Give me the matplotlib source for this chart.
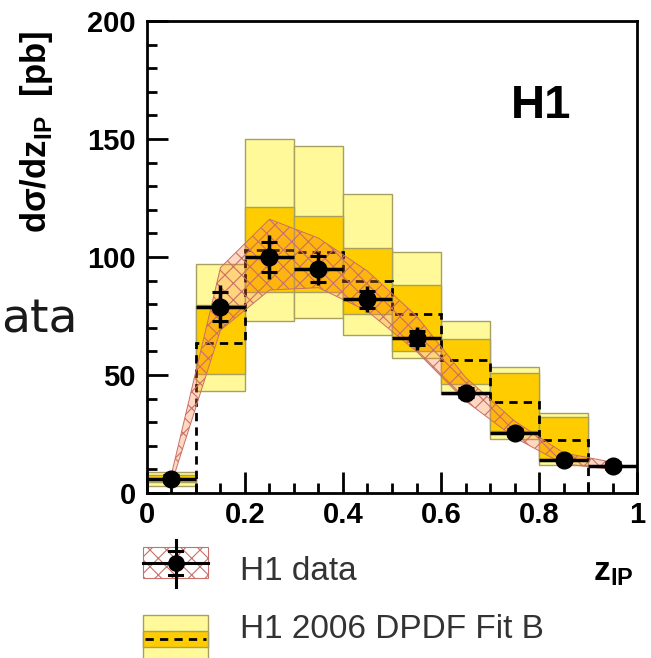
import numpy as np
import matplotlib
matplotlib.use("Agg")
import matplotlib.pyplot as plt
from matplotlib.patches import Rectangle
from matplotlib.ticker import MultipleLocator

plt.rcParams['font.family'] = ['Liberation Sans', 'DejaVu Sans']
plt.rcParams['mathtext.fontset'] = 'custom'
plt.rcParams['mathtext.rm'] = 'Liberation Sans'
plt.rcParams['mathtext.bf'] = 'Liberation Sans:bold'
plt.rcParams['hatch.linewidth'] = 0.8

# H1 data, bin centres in z_IP
z_centres = [0.05, 0.15, 0.25, 0.35, 0.45, 0.55, 0.65, 0.75, 0.85, 0.95]
data = [6, 79, 100, 95, 82, 65.5, 42.5, 25.5, 14, 11.5]
stat_err = [1.5, 6, 6.5, 5.5, 3.5, 3, 2, 1.5, 1, 1.5]
tot_err = [2.5, 9, 9.5, 7, 5.5, 5, 3, 2, 2, 2.5]
# correlated uncertainty band (hatched)
band_lo = [4, 69, 86, 87, 77, 60, 39, 23.5, 12.3, 10]
band_hi = [8, 95.5, 116, 108, 94, 75, 49, 30.5, 17, 13]

# H1 2006 DPDF Fit B prediction per bin (0.0 .. 0.9)
fit_left = [0.0, 0.1, 0.2, 0.3, 0.4, 0.5, 0.6, 0.7, 0.8]
fit_central = [63.5, 103, 102, 90, 76, 56.5, 38.5, 22.5]   # bins 0.1..0.9
fit_central_edges = [0.1, 0.2, 0.3, 0.4, 0.5, 0.6, 0.7, 0.8, 0.9]
dark_lo = [4.5, 50.5, 85, 85, 76, 60, 46, 26.3, 14]
dark_hi = [7.5, 79.5, 121, 117.5, 104, 88, 65.3, 51, 32]
light_lo = [3, 43, 73, 74, 67, 57, 42, 23, 12]
light_hi = [9, 97, 150, 147, 126.5, 102, 73, 53.5, 34]

light_col = '#fff99a'
dark_col = '#ffcc00'
box_edge = '#a8a060'
hatch_edge = '#c8706a'
hatch_face = (1.0, 0.5, 0.2, 0.3)

fig = plt.figure(figsize=(6.51, 6.58), dpi=100)

# legend drawn in pixel coordinates underneath
lax = fig.add_axes([0, 0, 1, 1], zorder=0)
lax.set_xlim(0, 651)
lax.set_ylim(658, 0)
lax.axis('off')

ax = fig.add_axes([0.2258, 0.2508, 0.7527, 0.7173], zorder=1)

w = 0.1
ax.bar(fit_left, np.subtract(light_hi, light_lo), bottom=light_lo, width=w,
       align='edge', color=light_col, edgecolor=box_edge, linewidth=1.0, zorder=1)
ax.bar(fit_left, np.subtract(dark_hi, dark_lo), bottom=dark_lo, width=w,
       align='edge', color=dark_col, edgecolor=box_edge, linewidth=1.0, zorder=2)
ax.stairs(fit_central, fit_central_edges, baseline=0, color='black',
          linestyle=(0, (3, 2.2)), linewidth=2.0, zorder=3)

ax.fill_between(z_centres, band_lo, band_hi, facecolor=hatch_face,
                edgecolor=hatch_edge, hatch='xx', linewidth=0.7, zorder=4)

# data points: total error bars with stat ticks
ax.errorbar(z_centres, data, xerr=0.05, yerr=tot_err, fmt='o', color='black',
            markersize=12, elinewidth=2.5, capsize=0, zorder=6)
ax.errorbar(z_centres, data, yerr=stat_err, fmt='none', ecolor='black',
            elinewidth=0, capsize=6, capthick=2.2, zorder=6)

ax.set_xlim(0, 1)
ax.set_ylim(0, 200)
ax.set_xticks([0, 0.2, 0.4, 0.6, 0.8, 1.0])
ax.set_xticklabels(['0', '0.2', '0.4', '0.6', '0.8', '1'])
ax.xaxis.set_minor_locator(MultipleLocator(0.05))
ax.yaxis.set_major_locator(MultipleLocator(50))
ax.yaxis.set_minor_locator(MultipleLocator(10))
ax.tick_params(which='major', direction='in', length=15, width=2,
               labelsize=21, pad=6)
ax.tick_params(which='minor', direction='in', length=7, width=2)
ax.tick_params(axis='y', pad=8)
for lab in ax.get_xticklabels() + ax.get_yticklabels():
    lab.set_fontweight('bold')
for sp in ax.spines.values():
    sp.set_linewidth(2)

ax.text(0.805, 164, 'H1', fontsize=34, fontweight='bold', ha='center', va='center',
        zorder=7)

# axis titles
fig.text(37 / 651, 1 - 132 / 658, 'dσ/dz$_{\\mathbf{IP}}$  [pb]',
         rotation=90, ha='center', va='center', fontsize=25, fontweight='bold')
fig.text(633 / 651, 1 - 573 / 658, r'z$_{\mathbf{IP}}$', ha='right',
         va='center', fontsize=24, fontweight='bold')

# stray text fragment at the left edge
fig.text(1 / 651, 1 - 333 / 658, 'ata', ha='left', va='baseline',
         fontsize=34, family='DejaVu Sans', color='#1a1a1a')

# legend entry 1: H1 data
lax.add_patch(Rectangle((143, 547), 65, 31, facecolor='white', edgecolor=hatch_edge,
                        hatch='xx', linewidth=0.8))
lax.plot([143, 208], [563, 563], color='black', lw=2.2)
lax.plot([175.5, 175.5], [540, 587], color='black', lw=2.2)
lax.plot([169, 182], [551, 551], color='black', lw=2.2)
lax.plot([169, 182], [575, 575], color='black', lw=2.2)
lax.plot([175.5], [563], 'o', color='black', markersize=11)
lax.text(240, 572, 'H1 data', fontsize=24, color='#333333', va='center')

# legend entry 2: Fit B
lax.add_patch(Rectangle((143, 615), 65, 50, facecolor=light_col, edgecolor=box_edge,
                        linewidth=1.0))
lax.add_patch(Rectangle((143, 631), 65, 16, facecolor=dark_col, edgecolor=box_edge,
                        linewidth=1.0))
lax.plot([145, 206], [639, 639], color='black', lw=2, linestyle=(0, (3, 2.2)))
lax.text(240, 629, 'H1 2006 DPDF Fit B', fontsize=24, color='#333333', va='center')

fig.savefig('out.png', dpi=100)
